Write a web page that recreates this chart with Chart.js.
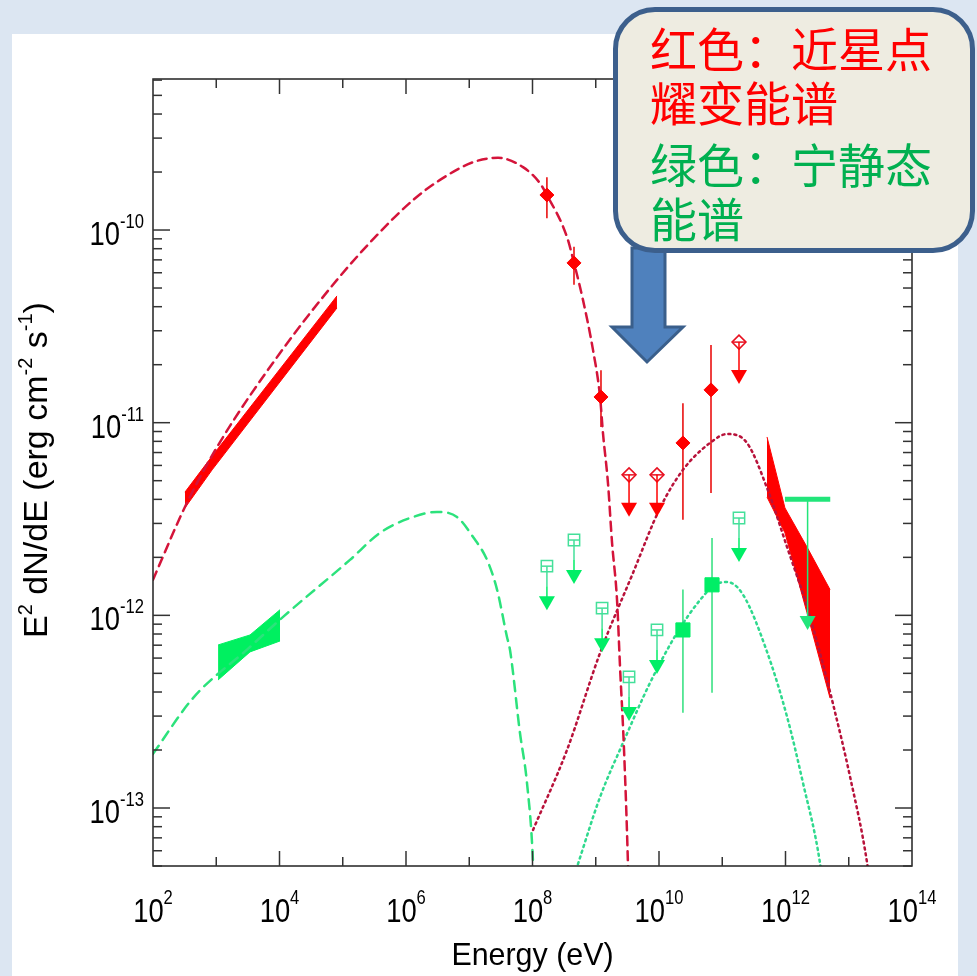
<!DOCTYPE html>
<html>
<head>
<meta charset="utf-8">
<script src="https://cdn.jsdelivr.net/npm/chart.js@4.4.1/dist/chart.umd.min.js"></script>
<style>
  html, body { margin: 0; padding: 0; }
  body { width: 977px; height: 976px; background: #dce6f2; position: relative; overflow: hidden; }
  #panel { position: absolute; left: 12px; top: 34px; width: 946px; height: 942px; background: #fff; }
  #sed { position: absolute; left: 0; top: 0; }
  #arrow { position: absolute; left: 0; top: 0; }
  #callout { position: absolute; left: 613px; top: 7px; width: 362px; height: 246px; box-sizing: border-box;
             border: 5px solid #3c5f8c; border-radius: 42px; background: #eeece1; }
  .note { position: absolute; left: 650px; font-family: "Noto Sans CJK SC", sans-serif; font-size: 47px;
          line-height: 47px; white-space: nowrap; }
  .red { color: #ff0000; }
  .green { color: #00b050; }
</style>
</head>
<body>
<div id="panel"></div>
<canvas id="sed" width="977" height="976"></canvas>
<svg id="arrow" width="977" height="976">
  <polygon points="632,248 665,248 665,327 683,327 647,362 612,327 632,327" fill="#4f81bd" stroke="#3a5f8b" stroke-width="3"/>
</svg>
<div id="callout"></div>
<div class="note red" style="top:23px">红色：近星点</div>
<div class="note red" style="top:77px">耀变能谱</div>
<div class="note green" style="top:139px">绿色：宁静态</div>
<div class="note green" style="top:193px">能谱</div>
<script>
// tick labels (powers of ten)
var xTickExp = [2, 4, 6, 8, 10, 12, 14];
var yTickExp = [-13, -12, -11, -10];

// flare (red) data points with errors
var redPtE  = [1.69e8, 4.53e8, 1.21e9, 2.39e10, 6.64e10];
var redPtF  = [1.52e-10, 6.75e-11, 1.36e-11, 7.85e-12, 1.48e-11];
var redPtHi = [1.88e-10, 8.2e-11, 1.87e-11, 1.26e-11, 2.53e-11];
var redPtLo = [1.15e-10, 5.2e-11, 9.5e-12, 3.13e-12, 4.32e-12];
// flare upper limits
var redUlE = [3.36e9, 9.3e9, 1.84e11];
var redUlF = [5.36e-12, 5.36e-12, 2.62e-11];

// quiescent (green) data points with errors
var greenPtE  = [2.39e10, 6.89e10];
var greenPtF  = [8.4e-13, 1.44e-12];
var greenPtHi = [1.36e-12, 2.52e-12];
var greenPtLo = [3.12e-13, 3.96e-13];
// quiescent upper limits
var greenUlE = [1.69e8, 4.53e8, 1.26e9, 3.36e9, 9.3e9, 1.84e11];
var greenUlF = [1.80e-12, 2.46e-12, 1.09e-12, 4.79e-13, 8.4e-13, 3.2e-12];
var greenTevUlE = [9.8e11, 5.1e12];
var greenTevUlF = 4.0e-12;
var greenTevUlTo = 8.4e-13;

// butterflies
var redXrayE  = [3.2e2, 8.6e2, 8.1e4];
var redXrayHi = [4.36e-12, 6.71e-12, 4.55e-11];
var redXrayLo = [3.61e-12, 5.69e-12, 3.94e-11];
var greenXrayE  = [1.07e3, 3.42e3, 1.02e4];
var greenXrayHi = [7.02e-13, 7.91e-13, 1.07e-12];
var greenXrayLo = [4.62e-13, 6.46e-13, 7.36e-13];
var redTevE  = [5.1e11, 9.8e11, 2.19e12, 5.06e12];
var redTevHi = [8.43e-12, 3.61e-12, 2.26e-12, 1.36e-12];
var redTevLo = [4.11e-12, 2.68e-12, 1.03e-12, 3.72e-13];

// model curves
var redSynE = [1e2, 3.21e2, 1.03e3, 1e4, 8.11e4, 3.16e5, 1.29e6, 3.45e6, 1.15e7, 2.85e7, 7.08e7, 1.31e8, 1.69e8,
               3.51e8, 4.53e8, 6.28e8, 9.06e8, 1.17e9, 1.30e9, 1.56e9, 1.81e9, 2.17e9, 2.42e9, 2.80e9, 3.24e9, 3.4e9];
var redSynF = [1.53e-12, 3.66e-12, 7.48e-12, 2.28e-11, 5.51e-11, 9.1e-11, 1.43e-10, 1.82e-10, 2.25e-10, 2.37e-10, 2.12e-10, 1.75e-10, 1.52e-10,
               9.2e-11, 6.75e-11, 4.34e-11, 2.38e-11, 1.36e-11, 8.85e-12, 4.86e-12, 2.38e-12, 1.20e-12, 5.40e-13, 2.00e-13, 4.94e-14, 2.5e-14];
var redIcE = [1.02e8, 3.51e8, 1.17e9, 3.88e9, 1.04e10, 2.39e10, 6.40e10, 1.19e11, 2.46e11, 5.11e11, 1.06e12,
              2.19e12, 3.51e12, 5.64e12, 1.05e13, 1.95e13, 2.2e13];
var redIcF = [7.69e-14, 2.00e-13, 6.38e-13, 1.66e-12, 3.61e-12, 5.69e-12, 7.85e-12, 8.73e-12, 7.85e-12, 4.58e-12, 2.26e-12,
              1.11e-12, 6.38e-13, 3.47e-13, 1.45e-13, 5.19e-14, 3.8e-14];
var greenSynE = [1e2, 4.29e2, 3.16e3, 1.14e4, 1.30e5, 3.88e5, 1.29e6, 3.09e6, 6.40e6, 1.15e7, 1.91e7, 2.75e7,
                 3.95e7, 4.41e7, 6.34e7, 8.18e7, 1.02e8, 1.06e8];
var greenSynF = [1.91e-13, 3.72e-13, 6.7e-13, 9.82e-13, 1.94e-12, 2.68e-12, 3.24e-12, 3.44e-12, 3.24e-12, 2.55e-12, 1.94e-12, 1.36e-12,
                 7.73e-13, 6.61e-13, 2.45e-13, 1.35e-13, 5.19e-14, 3.5e-14];
var greenIcE = [3.98e8, 5.05e8, 1.17e9, 2.70e9, 7.21e9, 1.93e10, 4.45e10, 7.67e10, 1.19e11, 2.13e11, 5.11e11,
                1.06e12, 1.89e12, 3.51e12, 3.8e12];
var greenIcF = [3.9e-14, 4.94e-14, 1.14e-13, 2.18e-13, 4.46e-13, 8.11e-13, 1.20e-12, 1.44e-12, 1.49e-12, 1.28e-12, 6.46e-13,
                2.97e-13, 1.35e-13, 5.19e-14, 4.2e-14];

var FONT = '"Liberation Sans", Arial, Helvetica, sans-serif';

function pts(xs, ys) {
    return xs.map(function (v, i) { return { x: v, y: ys[i] }; });
}

function curve(xs, ys, color, dash, width) {
    return { type: 'line', data: pts(xs, ys), borderColor: color, borderWidth: width, borderDash: dash,
             borderCapStyle: 'round', pointRadius: 0, fill: false, cubicInterpolationMode: 'monotone', order: 1 };
}

function bowtie(xs, hi, lo, color) {
    return [
        { type: 'line', data: pts(xs, hi), borderColor: color, backgroundColor: color, borderWidth: 1,
          pointRadius: 0, fill: '+1', tension: 0, order: 2 },
        { type: 'line', data: pts(xs, lo), borderColor: color, borderWidth: 1, pointRadius: 0, fill: false, tension: 0, order: 2 }
    ];
}

// text with superscripts, parts = [[text, isSup], ...]
function drawRich(ctx, parts, x, y, align, mainPx, supPx, rise, sx) {
    var w = 0;
    parts.forEach(function (p) {
        ctx.font = (p[1] ? supPx : mainPx) + 'px ' + FONT;
        w += ctx.measureText(p[0]).width;
    });
    var cx = align === 'center' ? -w / 2 : (align === 'right' ? -w : 0);
    ctx.save();
    ctx.translate(x, y);
    ctx.scale(sx, 1);
    ctx.textAlign = 'left';
    ctx.textBaseline = 'alphabetic';
    ctx.fillStyle = '#000';
    parts.forEach(function (p) {
        ctx.font = (p[1] ? supPx : mainPx) + 'px ' + FONT;
        ctx.fillText(p[0], cx, p[1] ? -rise : 0);
        cx += ctx.measureText(p[0]).width;
    });
    ctx.restore();
}

function seg(ctx, x0, y0, x1, y1) {
    ctx.beginPath(); ctx.moveTo(x0, y0); ctx.lineTo(x1, y1); ctx.stroke();
}

function downArrow(ctx, px, py0, tip, color) {
    ctx.strokeStyle = color; ctx.fillStyle = color; ctx.lineWidth = 1.5;
    seg(ctx, px, py0, px, tip - 12);
    ctx.beginPath();
    ctx.moveTo(px - 8, tip - 14); ctx.lineTo(px + 8, tip - 14); ctx.lineTo(px, tip);
    ctx.closePath(); ctx.fill();
}

// error bars, under the markers
var errorBarPlugin = {
    id: 'errorBars',
    beforeDatasetsDraw: function (chart) {
        var ctx = chart.ctx, x = chart.scales.x, y = chart.scales.y, a = chart.chartArea;
        ctx.save();
        ctx.beginPath(); ctx.rect(a.left, a.top, a.right - a.left, a.bottom - a.top); ctx.clip();
        ctx.lineWidth = 1.5;
        ctx.strokeStyle = '#e80000';
        redPtE.forEach(function (e, i) {
            var px = x.getPixelForValue(e);
            seg(ctx, px, y.getPixelForValue(redPtHi[i]), px, y.getPixelForValue(redPtLo[i]));
        });
        ctx.strokeStyle = '#2ee07c';
        greenPtE.forEach(function (e, i) {
            var px = x.getPixelForValue(e);
            seg(ctx, px, y.getPixelForValue(greenPtHi[i]), px, y.getPixelForValue(greenPtLo[i]));
        });
        ctx.restore();
    }
};

// upper limit arrows
var limitPlugin = {
    id: 'limits',
    afterDatasetsDraw: function (chart) {
        var ctx = chart.ctx, x = chart.scales.x, y = chart.scales.y;
        ctx.save();
        redUlE.forEach(function (e, i) {
            var px = x.getPixelForValue(e), py = y.getPixelForValue(redUlF[i]);
            ctx.strokeStyle = '#e81020'; ctx.lineWidth = 1.5;
            seg(ctx, px - 6, py, px + 6, py);
            downArrow(ctx, px, py, py + 42, '#ff0000');
        });
        greenUlE.forEach(function (e, i) {
            var px = x.getPixelForValue(e), py = y.getPixelForValue(greenUlF[i]);
            ctx.strokeStyle = '#44e09a'; ctx.lineWidth = 1.5;
            seg(ctx, px - 5, py, px + 5, py);
            seg(ctx, px, py, px, py + 20);
            downArrow(ctx, px, py + 20, py + 44, '#00ee66');
        });
        var x0 = x.getPixelForValue(greenTevUlE[0]), x1 = x.getPixelForValue(greenTevUlE[1]);
        var py = y.getPixelForValue(greenTevUlF), pm = (x0 + x1) / 2;
        ctx.strokeStyle = '#22e57a'; ctx.lineWidth = 5;
        seg(ctx, x0, py, x1, py);
        downArrow(ctx, pm, py, y.getPixelForValue(greenTevUlTo), '#22e57a');
        ctx.restore();
    }
};

// frame, inward ticks, labels
var framePlugin = {
    id: 'frame',
    afterDraw: function (chart) {
        var ctx = chart.ctx, a = chart.chartArea, x = chart.scales.x, y = chart.scales.y;
        ctx.save();
        ctx.strokeStyle = '#222';
        ctx.lineWidth = 1.5;
        ctx.strokeRect(a.left, a.top, a.right - a.left, a.bottom - a.top);
        ctx.strokeStyle = '#333';
        for (var d = -14; d <= -9; d++) {
            for (var k = 1; k <= 9; k++) {
                var v = k * Math.pow(10, d);
                if (v < y.min || v > y.max) continue;
                var py = y.getPixelForValue(v), len = k === 1 ? 17 : 9;
                seg(ctx, a.left, py, a.left + len, py);
                seg(ctx, a.right, py, a.right - len, py);
            }
        }
        for (var e = 3; e <= 13; e++) {
            var px = x.getPixelForValue(Math.pow(10, e)), l = e % 2 === 0 ? 15 : 9;
            seg(ctx, px, a.top, px, a.top + l);
            seg(ctx, px, a.bottom, px, a.bottom - l);
        }
        xTickExp.forEach(function (n) {
            drawRich(ctx, [['10', false], [String(n), true]], x.getPixelForValue(Math.pow(10, n)), a.bottom + 56,
                     'center', 33, 20, 18, 0.83);
        });
        yTickExp.forEach(function (n) {
            drawRich(ctx, [['10', false], [String(n), true]], a.left - 9, y.getPixelForValue(Math.pow(10, n)) + 15,
                     'right', 33, 20, 17, 0.83);
        });
        drawRich(ctx, [['Energy (eV)', false]], x.getPixelForValue(1e8), 965, 'center', 32, 18, 0, 0.95);
        ctx.save();
        ctx.translate(47, 470);
        ctx.rotate(-Math.PI / 2);
        drawRich(ctx, [['E', false], ['2', true], [' dN/dE (erg cm', false], ['-2', true], [' s', false], ['-1', true], [')', false]],
                 0, 0, 'center', 34, 20, 15, 1);
        ctx.restore();
        ctx.restore();
    }
};

var datasets = [
    { type: 'scatter', data: pts(redPtE, redPtF), pointStyle: 'rectRot', pointRadius: 7,
      backgroundColor: '#ff0000', borderColor: '#ff0000', borderWidth: 1, order: 0 },
    { type: 'scatter', data: pts(greenPtE, greenPtF), pointStyle: 'rect', pointRadius: 10,
      backgroundColor: '#00ee66', borderColor: '#00ee66', borderWidth: 1, order: 0 },
    { type: 'scatter', data: pts(redUlE, redUlF), pointStyle: 'rectRot', pointRadius: 7,
      backgroundColor: 'rgba(0,0,0,0)', borderColor: '#e81020', borderWidth: 1.5, order: 0 },
    { type: 'scatter', data: pts(greenUlE, greenUlF), pointStyle: 'rect', pointRadius: 8,
      backgroundColor: 'rgba(0,0,0,0)', borderColor: '#44e09a', borderWidth: 1.5, order: 0 },
    curve(redSynE, redSynF, '#d4143a', [9, 6], 2.5),
    curve(greenSynE, greenSynF, '#2ce27c', [10, 7], 2.5),
    curve(redIcE, redIcF, '#b8123a', [2, 4], 2.5),
    curve(greenIcE, greenIcF, '#2fd98e', [2, 4], 2.5)
].concat(bowtie(redXrayE, redXrayHi, redXrayLo, '#ff0000'),
         bowtie(greenXrayE, greenXrayHi, greenXrayLo, '#00f060'),
         bowtie(redTevE, redTevHi, redTevLo, '#ff0000'));

var chart = new Chart(document.getElementById('sed'), {
    type: 'scatter',
    data: { datasets: datasets },
    options: {
        responsive: false,
        animation: false,
        events: [],
        layout: { padding: { left: 153, right: 65, top: 79, bottom: 110 } },
        plugins: { legend: { display: false }, tooltip: { enabled: false } },
        scales: {
            x: { type: 'logarithmic', min: 1e2, max: 1e14, display: false },
            y: { type: 'logarithmic', min: 5e-14, max: 6.08e-10, display: false }
        }
    },
    plugins: [errorBarPlugin, limitPlugin, framePlugin]
});
</script>
</body>
</html>
